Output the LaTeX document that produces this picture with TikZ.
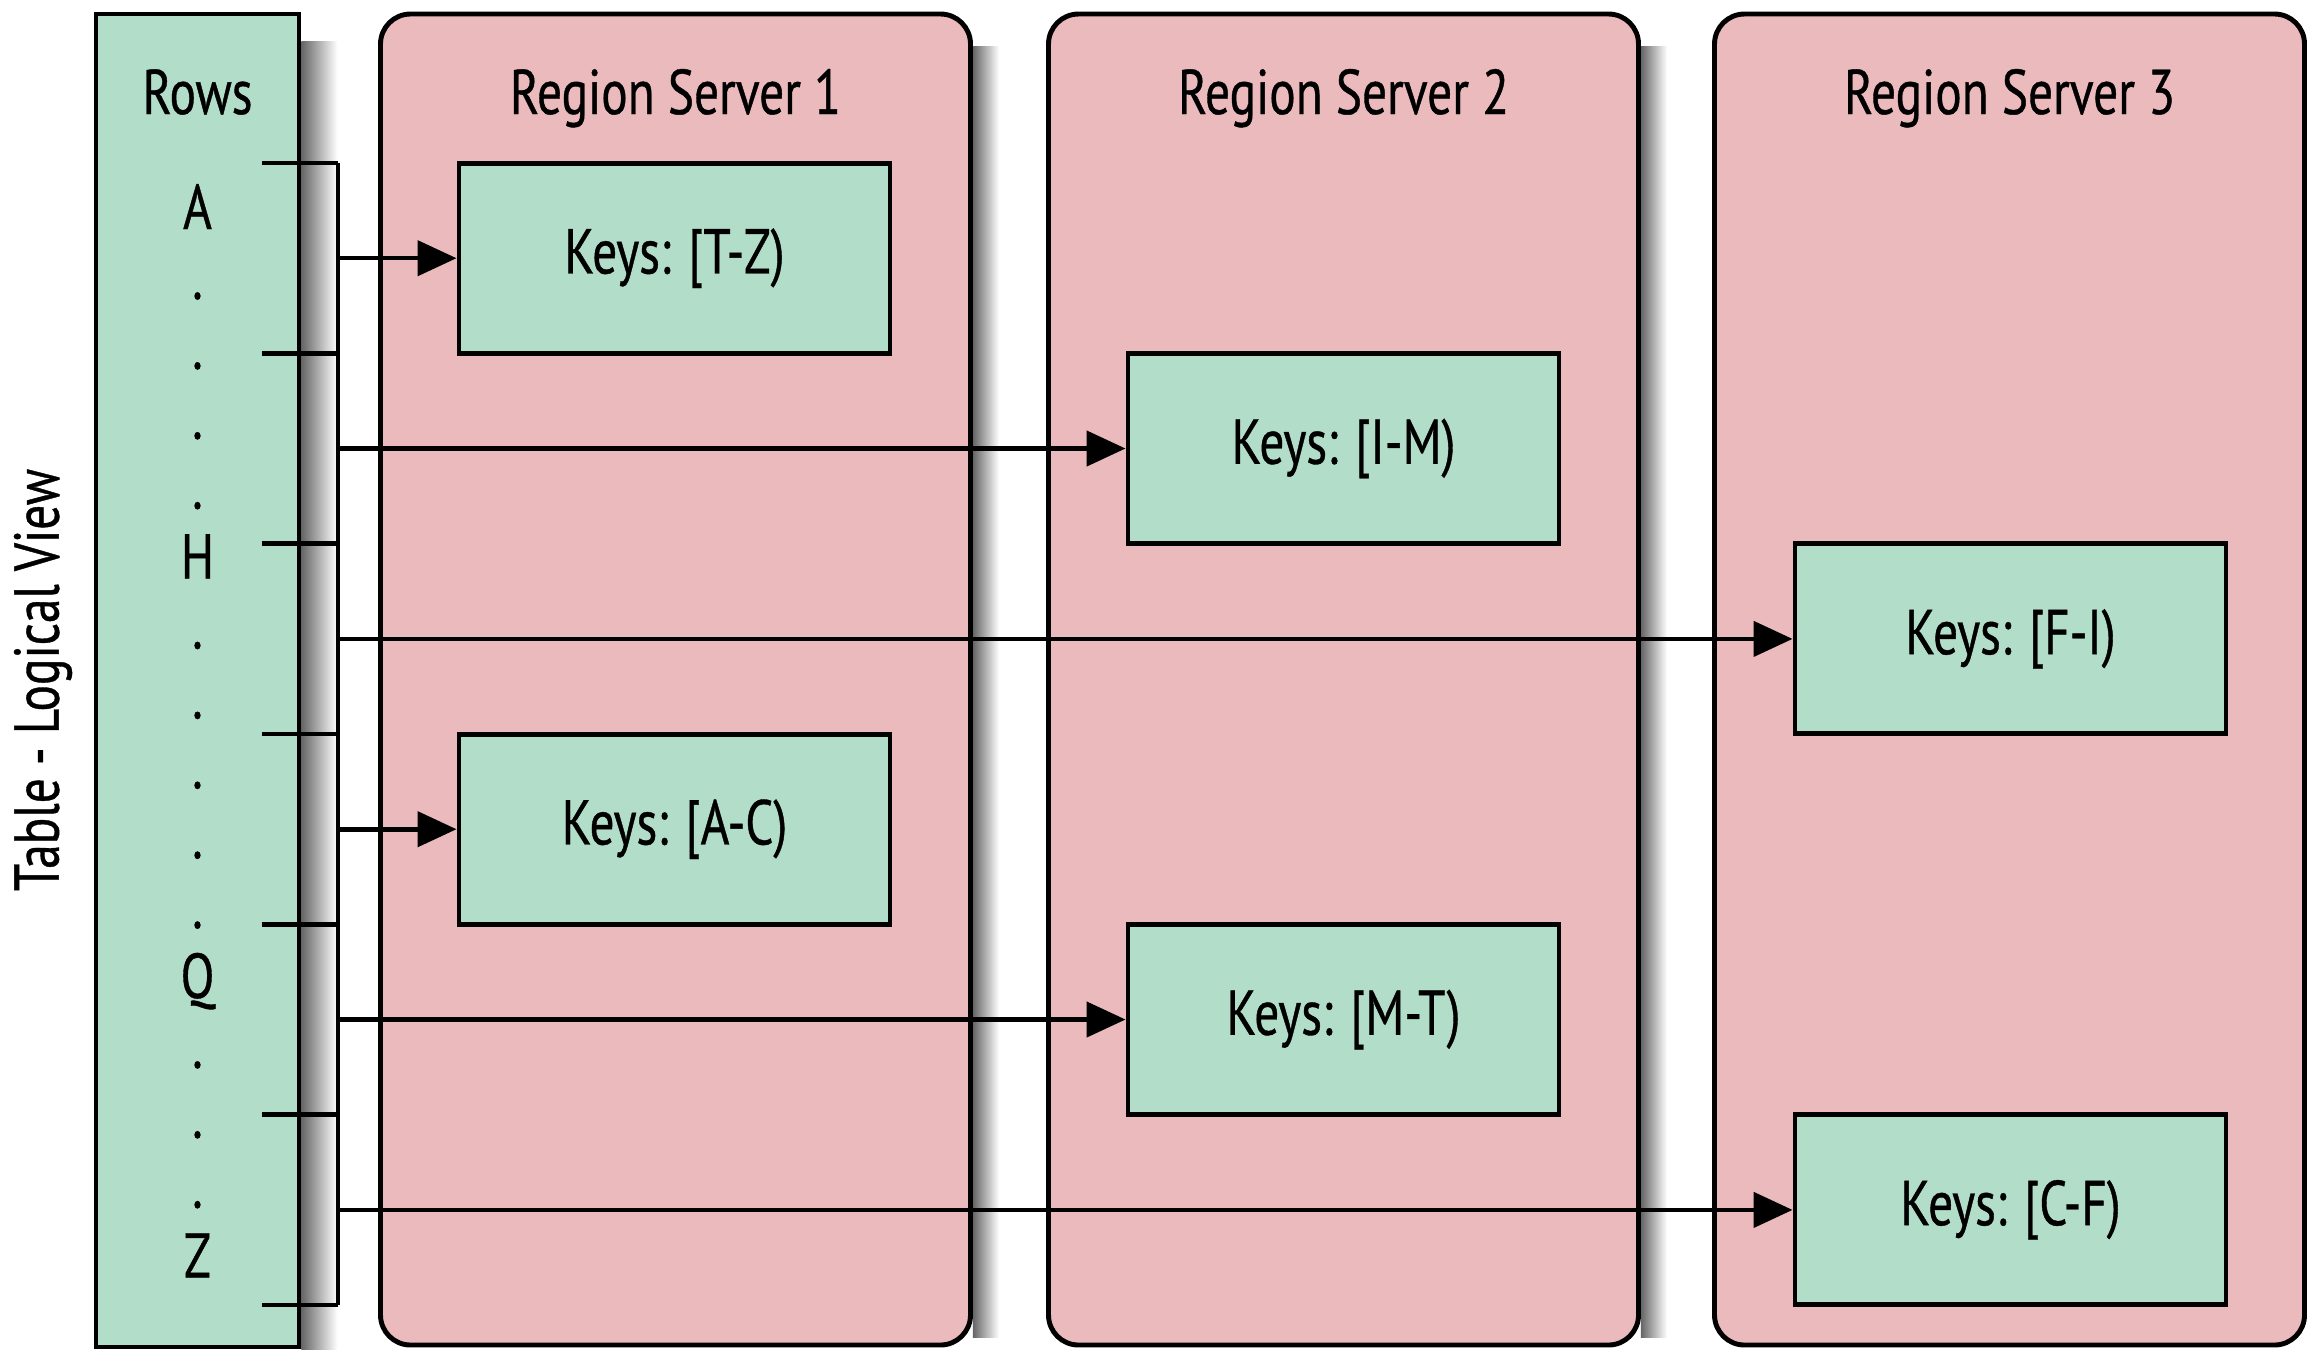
\documentclass[tikz,border=0pt]{standalone}
\usepackage{fontspec}
\setmainfont[FakeStretch=0.78, FakeBold=0.6]{PT Sans}
\usetikzlibrary{arrows.meta,backgrounds}
\definecolor{mylightgreen}{RGB}{178,221,200}
\definecolor{mypink}{RGB}{235,186,189}
\newcommand{\widthserver}{5.9cm}
\newcommand{\heightserver}{13.31cm}
\newcommand{\widthkey}{4.31cm}
\newcommand{\heightkey}{1.90cm}
\newcommand{\rowstep}{0.699}
\tikzset{
    common/.style={draw, rectangle, line width=1.4pt, inner sep=0pt, font=\fontsize{18}{21}\selectfont},
    rowsbox/.style={common, fill=mylightgreen, minimum width=2.03cm, minimum height=13.33cm},
    server/.style={common, rounded corners=0.3cm, fill=mypink, minimum width=\widthserver, minimum height=\heightserver},
    keybox/.style={common, fill=mylightgreen, minimum width=\widthkey, minimum height=\heightkey},
    heading/.style={anchor=base, inner sep=0pt, font=\fontsize{18}{21}\selectfont},
    tick/.style={line width=1.4pt},
    link/.style={line width=1.3pt, -{Triangle[length=3.9mm, width=3.5mm]}},
    shadowstrip/.style={left color=black!60, right color=white, draw=none}
}

\begin{document}
\begin{tikzpicture}
    \useasboundingbox (0,0) rectangle (23.07,-13.5);

    % table column
    \node[rowsbox] (rows) at (1.975,-6.805) {};
    \node[heading] (rows-title) at (1.975,-1.14) {Rows};
    \foreach \t [count=\i from 0] in {A,.,.,.,.,H,.,.,.,.,.,Q,.,.,.,Z}
        \node[heading] (row\i) at (1.975,{-2.29-\i*\rowstep}) {\t};
    \node[heading, anchor=center, rotate=90] (table-title) at (0.43,-6.8) {Table - Logical View};

    % region servers
    \foreach \n/\x in {1/6.755, 2/13.435, 3/20.095} {
        \node[server] (RS\n) at (\x,-6.795) {};
        \node[heading] (RS\n-title) at (\x,-1.14) {Region Server \n};
    }

    \node[keybox] (TZ) at (6.745,-2.582) {Keys: [T-Z)};
    \node[keybox] (IM) at (13.435,-4.485) {Keys: [I-M)};
    \node[keybox] (FI) at (20.105,-6.389) {Keys: [F-I)};
    \node[keybox] (AC) at (6.745,-8.292) {Keys: [A-C)};
    \node[keybox] (MT) at (13.435,-10.195) {Keys: [M-T)};
    \node[keybox] (CF) at (20.105,-12.099) {Keys: [C-F)};

    % bracket and links
    \coordinate (brk-top) at (3.38,-1.63);
    \coordinate (brk-bot) at (3.38,-13.05);
    \draw[tick] (brk-top) -- (brk-bot);
    \foreach \i in {0,...,6}
        \draw[tick] ([yshift={-\i*1.9033cm}]brk-top) -- ++(-0.76,0);
    \foreach \k in {TZ,IM,FI,AC,MT,CF}
        \draw[link] (brk-top |- \k.west) -- (\k.west);

    \begin{scope}[on background layer]
        \shade[shadowstrip] ([yshift=-0.3cm]rows.north east) rectangle ([xshift=0.36cm]rows.south east);
        \foreach \n in {1,2}
            \shade[shadowstrip] ([yshift=-0.35cm]RS\n.north east) rectangle ([xshift=0.26cm, yshift=0.1cm]RS\n.south east);
    \end{scope}
\end{tikzpicture}
\end{document}
